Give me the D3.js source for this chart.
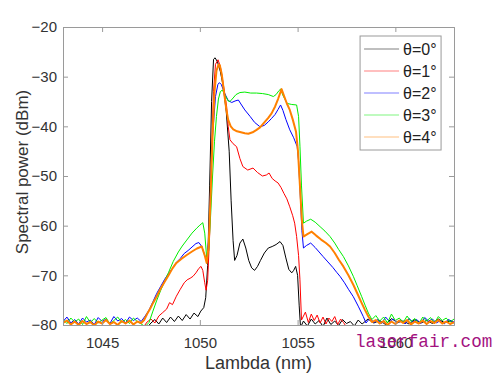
<!DOCTYPE html>
<html>
<head>
  <meta charset="utf-8">
  <script src="https://d3js.org/d3.v7.min.js"></script>
  <style>
    body { margin: 0; background: #fff; }
    svg { display: block; font-family: "Liberation Sans", Arial, sans-serif; }
  </style>
</head>
<body>
  <div id="chart"></div>

  <script>
    // Legend labels and colours
    const labels = ["θ=0°", "θ=1°", "θ=2°", "θ=3°", "θ=4°"];
    const colors = ["#000000", "#ff0000", "#0000ff", "#00ee00", "#ff8000"];
    const widths = [1, 1, 1, 1, 2];

    const xTicks = [1045, 1050, 1055, 1060];
    const yTicks = [-80, -70, -60, -50, -40, -30, -20];

    // [wavelength nm, power dBm]
    const theta0 = [[1043,-80.5],[1047.3,-80.5],[1047.5,-79.6],[1047.7,-78.9],[1047.9,-79.8],[1048.1,-78.6],[1048.3,-79.5],[1048.5,-78.4],[1048.7,-79.3],[1048.9,-78.2],[1049.1,-79.1],[1049.3,-77.9],[1049.5,-78.8],[1049.7,-77.6],[1049.9,-78.3],[1050.05,-77.2],[1050.2,-76.5],[1050.3,-74.5],[1050.4,-68],[1050.5,-52],[1050.6,-35],[1050.7,-26.5],[1050.78,-26.2],[1050.9,-27],[1051.05,-29],[1051.2,-32],[1051.35,-37],[1051.5,-45],[1051.6,-55],[1051.7,-63],[1051.78,-67],[1051.9,-66],[1052.05,-63.5],[1052.2,-62.7],[1052.35,-64.5],[1052.5,-67],[1052.65,-68.5],[1052.8,-69],[1052.95,-68.2],[1053.1,-67],[1053.3,-65.5],[1053.5,-64.5],[1053.7,-64.2],[1053.9,-63.8],[1054.1,-63.2],[1054.25,-64],[1054.4,-66.5],[1054.55,-68.8],[1054.7,-69.5],[1054.8,-69],[1054.9,-68.2],[1055.0,-70],[1055.08,-76],[1055.15,-80.5],[1055.3,-79.2],[1055.5,-80.2],[1055.7,-78.8],[1055.9,-79.8],[1056.1,-79.1],[1056.3,-80.3],[1056.5,-78.6],[1056.7,-79.9],[1056.9,-79.2],[1057.1,-80.1],[1057.3,-78.9],[1057.5,-79.7],[1057.7,-79.3],[1057.9,-80.2],[1058.1,-79.0],[1058.3,-79.8],[1058.6,-78.8],[1058.9,-79.6],[1059.2,-79.1],[1059.5,-79.9],[1059.8,-78.7],[1060.1,-79.5],[1060.4,-79.2],[1060.7,-79.8],[1061,-78.9],[1061.3,-79.6],[1061.6,-79.1],[1061.9,-79.7],[1062.2,-78.8],[1062.5,-79.5],[1062.8,-79.2],[1063,-79.6]];

    const theta1 = [[1043,-80.5],[1047.1,-80.5],[1047.3,-79.4],[1047.5,-78.8],[1047.7,-79.6],[1047.9,-78.2],[1048.1,-77.5],[1048.3,-76.8],[1048.45,-75.5],[1048.6,-75.9],[1048.8,-74.2],[1049.0,-72.8],[1049.2,-71.5],[1049.35,-70.9],[1049.5,-70.6],[1049.65,-70.2],[1049.8,-69.5],[1049.95,-68.6],[1050.06,-68.2],[1050.15,-69],[1050.25,-71.5],[1050.32,-73],[1050.4,-71],[1050.5,-62],[1050.6,-45],[1050.7,-33],[1050.8,-27.5],[1050.93,-26.6],[1051.05,-28],[1051.2,-31.5],[1051.37,-36],[1051.45,-40],[1051.54,-42.7],[1051.7,-43.5],[1051.88,-44.1],[1052.05,-46.5],[1052.2,-48.1],[1052.45,-48.8],[1052.72,-48.4],[1052.95,-49.3],[1053.2,-50],[1053.4,-49.8],[1053.54,-49.4],[1053.7,-50.5],[1053.85,-51],[1054.0,-51.4],[1054.15,-52.3],[1054.3,-53.5],[1054.45,-54.6],[1054.6,-56.2],[1054.75,-58],[1054.85,-59.5],[1054.95,-62.2],[1055.05,-66],[1055.12,-70.9],[1055.2,-79],[1055.3,-78.2],[1055.4,-77.4],[1055.55,-79.5],[1055.7,-77.8],[1055.85,-79.1],[1056.0,-78.0],[1056.15,-79.6],[1056.3,-78.4],[1056.45,-79.8],[1056.6,-78.6],[1056.75,-79.3],[1056.9,-78.3],[1057.05,-79.9],[1057.2,-78.8],[1057.35,-79.5],[1057.5,-80.4],[1063,-80.4]];

    const theta2 = [[1043,-79.3],[1043.2,-78.4],[1043.4,-79.6],[1043.6,-78.9],[1043.8,-79.8],[1044.0,-78.6],[1044.2,-79.4],[1044.4,-79.0],[1044.6,-79.9],[1044.8,-78.5],[1045.0,-79.3],[1045.2,-78.8],[1045.4,-79.7],[1045.6,-78.3],[1045.8,-79.2],[1046.0,-78.7],[1046.2,-79.6],[1046.4,-78.4],[1046.6,-79.1],[1046.8,-78.6],[1047.0,-79.3],[1047.2,-78.2],[1047.4,-77.0],[1047.6,-75.3],[1047.8,-73.6],[1048.0,-72.2],[1048.2,-70.8],[1048.4,-69.6],[1048.6,-68.6],[1048.8,-67.4],[1049.0,-66.6],[1049.2,-65.6],[1049.4,-65.0],[1049.6,-64.3],[1049.8,-63.6],[1049.95,-63.4],[1050.1,-64.2],[1050.25,-66],[1050.35,-66.8],[1050.45,-63],[1050.55,-52],[1050.65,-42],[1050.8,-34],[1050.92,-31.6],[1051.0,-31.2],[1051.1,-31.6],[1051.25,-33.2],[1051.45,-34.8],[1051.63,-35.2],[1051.8,-34.9],[1051.97,-34.7],[1052.1,-35.5],[1052.3,-36.7],[1052.57,-38.0],[1052.8,-39.2],[1053.08,-40.1],[1053.3,-39.8],[1053.5,-39.1],[1053.67,-38.4],[1053.85,-37.6],[1054.0,-36.6],[1054.13,-35.7],[1054.25,-36.8],[1054.4,-38.6],[1054.6,-40.7],[1054.8,-42.3],[1054.98,-44.1],[1055.05,-47],[1055.15,-55],[1055.22,-61],[1055.3,-64.5],[1055.45,-64.0],[1055.67,-63.5],[1055.9,-64.4],[1056.1,-65.3],[1056.3,-66.2],[1056.55,-67.3],[1056.8,-68.4],[1057.0,-69.4],[1057.17,-70.2],[1057.4,-71.5],[1057.6,-72.8],[1057.85,-74.3],[1058.1,-76.2],[1058.36,-78.3],[1058.5,-79.6],[1058.7,-78.6],[1058.9,-79.5],[1059.1,-78.9],[1059.3,-79.7],[1059.5,-78.4],[1059.7,-79.3],[1059.9,-78.8],[1060.1,-79.6],[1060.3,-79.0],[1060.5,-79.8],[1060.7,-78.7],[1060.9,-79.4],[1061.1,-78.9],[1061.3,-79.7],[1061.5,-78.5],[1061.7,-79.2],[1061.9,-78.8],[1062.1,-79.6],[1062.3,-79.1],[1062.5,-79.8],[1062.7,-78.9],[1063,-79.4]];

    const theta3 = [[1043,-78.9],[1043.2,-79.7],[1043.4,-78.6],[1043.6,-79.4],[1043.8,-78.8],[1044.0,-79.9],[1044.2,-78.3],[1044.4,-79.5],[1044.6,-78.7],[1044.8,-79.6],[1045.0,-79.0],[1045.2,-78.5],[1045.4,-79.8],[1045.6,-79.1],[1045.8,-78.4],[1046.0,-79.5],[1046.2,-78.9],[1046.4,-79.7],[1046.6,-78.6],[1046.8,-79.3],[1047.0,-79.8],[1047.2,-80.3],[1047.4,-79.5],[1047.6,-77.2],[1047.8,-75],[1048.0,-73.0],[1048.2,-71.2],[1048.4,-69.4],[1048.64,-67.2],[1048.9,-65.3],[1049.1,-64.1],[1049.33,-62.9],[1049.6,-61.5],[1049.84,-60.5],[1050.0,-59.9],[1050.15,-59.4],[1050.25,-61.5],[1050.35,-66.5],[1050.45,-65],[1050.55,-58],[1050.65,-50],[1050.75,-43],[1050.85,-38],[1050.95,-34.5],[1051.05,-33],[1051.15,-32.7],[1051.3,-33.8],[1051.45,-34.9],[1051.54,-35.0],[1051.7,-34.3],[1051.85,-33.6],[1052.05,-33.2],[1052.3,-33.1],[1052.6,-33.3],[1052.9,-33.3],[1053.2,-33.4],[1053.5,-33.6],[1053.76,-34.0],[1053.9,-33.6],[1054.05,-32.8],[1054.13,-32.5],[1054.25,-33.8],[1054.47,-35.4],[1054.7,-35.6],[1054.95,-35.7],[1055.05,-38],[1055.12,-44],[1055.2,-52],[1055.3,-59.5],[1055.45,-59.1],[1055.67,-58.7],[1055.9,-59.3],[1056.15,-60.2],[1056.4,-61.1],[1056.66,-62.2],[1056.9,-63.5],[1057.1,-64.8],[1057.34,-66.2],[1057.6,-68.1],[1057.85,-70.2],[1058.05,-72.1],[1058.28,-74.3],[1058.45,-76.0],[1058.62,-77.6],[1058.8,-78.9],[1059.0,-78.1],[1059.2,-79.2],[1059.4,-78.4],[1059.6,-79.6],[1059.8,-77.8],[1060.0,-79.1],[1060.2,-78.6],[1060.4,-79.5],[1060.6,-78.2],[1060.8,-79.3],[1061.0,-78.7],[1061.2,-79.8],[1061.4,-78.4],[1061.6,-79.2],[1061.8,-78.5],[1062.0,-79.6],[1062.2,-78.3],[1062.4,-79.1],[1062.6,-78.6],[1062.8,-79.4],[1063,-78.8]];

    const theta4 = [[1043,-79.6],[1043.2,-79.1],[1043.4,-79.9],[1043.6,-79.3],[1043.8,-80.0],[1044.0,-79.2],[1044.2,-79.8],[1044.4,-79.4],[1044.6,-80.1],[1044.8,-79.3],[1045.0,-79.7],[1045.2,-79.0],[1045.4,-79.8],[1045.6,-79.4],[1045.8,-80.0],[1046.0,-79.2],[1046.2,-79.7],[1046.4,-79.1],[1046.6,-79.9],[1046.8,-79.3],[1047.0,-79.6],[1047.15,-79.0],[1047.3,-77.8],[1047.45,-76.8],[1047.6,-75.6],[1047.8,-74.2],[1047.96,-72.9],[1048.2,-71.3],[1048.4,-70.0],[1048.6,-68.6],[1048.8,-67.5],[1049.05,-66.7],[1049.33,-65.9],[1049.6,-65.2],[1049.85,-64.6],[1050.1,-64.2],[1050.25,-66.0],[1050.35,-67.5],[1050.45,-64.0],[1050.55,-54],[1050.65,-42],[1050.75,-33],[1050.85,-28.8],[1050.95,-27.6],[1051.02,-27.7],[1051.12,-29.5],[1051.25,-33.5],[1051.35,-36.5],[1051.45,-38.7],[1051.58,-40.0],[1051.71,-40.6],[1051.9,-41.0],[1052.1,-41.2],[1052.3,-41.4],[1052.48,-41.5],[1052.7,-41.2],[1052.9,-40.7],[1053.08,-40.2],[1053.3,-39.2],[1053.5,-38.3],[1053.67,-37.4],[1053.85,-36.0],[1054.0,-34.5],[1054.18,-32.5],[1054.3,-33.8],[1054.45,-35.4],[1054.6,-36.7],[1054.75,-38.6],[1054.92,-41.1],[1055.02,-45],[1055.12,-52],[1055.22,-59],[1055.3,-62.2],[1055.5,-61.7],[1055.72,-61.2],[1055.95,-62.0],[1056.2,-62.8],[1056.45,-63.5],[1056.66,-64.2],[1056.9,-65.5],[1057.1,-66.8],[1057.34,-68.2],[1057.6,-70.0],[1057.85,-71.9],[1058.05,-73.6],[1058.28,-75.6],[1058.45,-77.0],[1058.62,-78.3],[1058.8,-79.4],[1059.0,-79.0],[1059.2,-79.7],[1059.4,-79.2],[1059.6,-80.0],[1059.8,-79.3],[1060.0,-79.8],[1060.2,-79.1],[1060.4,-79.6],[1060.6,-79.0],[1060.8,-79.9],[1061.0,-79.3],[1061.2,-79.7],[1061.4,-79.1],[1061.6,-79.8],[1061.8,-79.2],[1062.0,-79.6],[1062.2,-79.0],[1062.4,-79.7],[1062.6,-79.3],[1062.8,-79.8],[1063,-79.4]];

    const series = [theta0, theta1, theta2, theta3, theta4];

    const W = 500, H = 374;
    const margin = { top: 27, right: 46, bottom: 49, left: 63 };
    const w = W - margin.left - margin.right;
    const h = H - margin.top - margin.bottom;

    const svg = d3.select("#chart")
      .append("svg")
      .attr("width", W)
      .attr("height", H);

    const g = svg.append("g")
      .attr("transform", `translate(${margin.left},${margin.top})`);

    const x = d3.scaleLinear().domain([1043, 1063]).range([0, w]);
    const y = d3.scaleLinear().domain([-80, -20]).range([h, 0]);

    // clip the traces to the plot box
    g.append("clipPath").attr("id", "clip")
      .append("rect").attr("width", w).attr("height", h);

    const line = d3.line()
      .x(d => x(d[0]))
      .y(d => y(d[1]));

    g.append("g").attr("clip-path", "url(#clip)")
      .selectAll("path")
      .data(series)
      .enter()
      .append("path")
      .attr("d", line)
      .attr("fill", "none")
      .attr("stroke", (d, i) => colors[i])
      .attr("stroke-width", (d, i) => widths[i])
      .attr("stroke-linejoin", "round");

    // Axes: inward ticks on all four sides
    const axisColor = "#9a9a9a";
    const tickLen = 5;

    const axBottom = g.append("g")
      .attr("transform", `translate(0,${h})`)
      .call(d3.axisBottom(x).tickValues(xTicks).tickSize(-tickLen).tickPadding(12).tickFormat(d3.format("d")));
    const axTop = g.append("g")
      .call(d3.axisTop(x).tickValues(xTicks).tickSize(-tickLen).tickFormat(""));
    const axLeft = g.append("g")
      .call(d3.axisLeft(y).tickValues(yTicks).tickSize(-tickLen).tickPadding(6));
    const axRight = g.append("g")
      .attr("transform", `translate(${w},0)`)
      .call(d3.axisRight(y).tickValues(yTicks).tickSize(-tickLen).tickFormat(""));

    [axBottom, axTop, axLeft, axRight].forEach(a => {
      a.select(".domain").attr("stroke", axisColor);
      a.selectAll(".tick line").attr("stroke", axisColor);
      a.selectAll("text")
        .attr("fill", "#333")
        .style("font-size", "15px")
        .style("font-family", "'Liberation Sans', Arial, sans-serif");
    });

    // Axis labels
    g.append("text")
      .attr("x", w / 2)
      .attr("y", h + 44)
      .attr("text-anchor", "middle")
      .attr("fill", "#333")
      .style("font-size", "18px")
      .text("Lambda (nm)");

    g.append("text")
      .attr("transform", `translate(-35,${h / 2 - 4}) rotate(-90)`)
      .attr("text-anchor", "middle")
      .attr("fill", "#333")
      .style("font-size", "17px")
      .text("Spectral power (dBm)");

    // Legend
    const legend = g.append("g")
      .attr("transform", `translate(${x(1058.4) - 4},${9})`);

    legend.append("rect")
      .attr("width", 81)
      .attr("height", 114)
      .attr("fill", "#fff")
      .attr("stroke", axisColor);

    const items = legend.selectAll("g.item")
      .data(labels)
      .enter()
      .append("g")
      .attr("class", "item")
      .attr("transform", (d, i) => `translate(0,${13 + i * 22})`);

    items.append("line")
      .attr("x1", 4).attr("x2", 39)
      .attr("stroke", (d, i) => colors[i])
      .attr("stroke-opacity", 0.5)
      .attr("stroke-width", 1.2);

    items.append("text")
      .attr("x", 43)
      .attr("dy", "0.36em")
      .attr("fill", "#222")
      .style("font-size", "16px")
      .text(d => d);

    // Watermark
    svg.append("text")
      .attr("x", 355)
      .attr("y", 347)
      .attr("fill", "#a3127f")
      .style("font-family", "'Liberation Mono', 'DejaVu Sans Mono', monospace")
      .style("font-size", "17.6px")
      .text("laserfair.com");
  </script>
</body>
</html>
